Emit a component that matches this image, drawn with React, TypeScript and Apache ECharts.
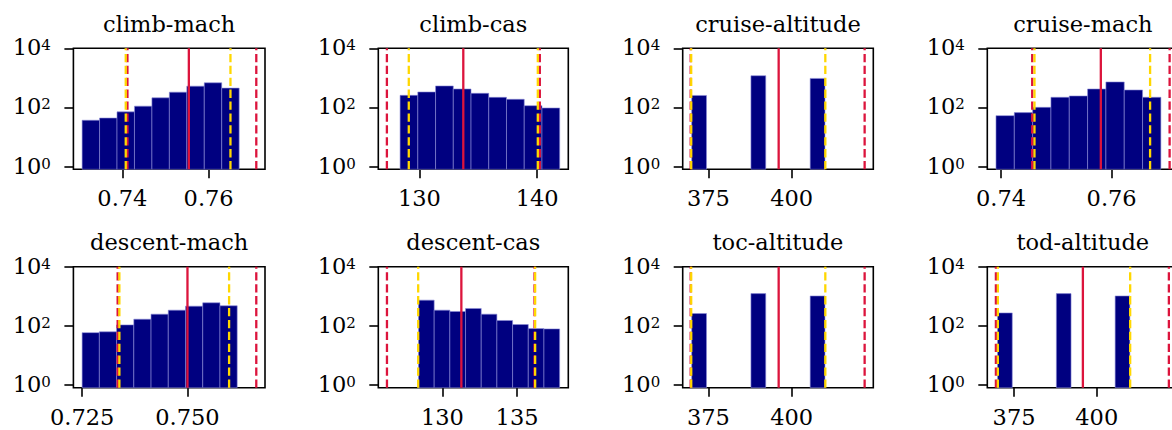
import React, { useEffect, useRef } from "react";
import * as echarts from "echarts";

const NAVY = "#000080";
const CRIMSON = "#DC143C";
const GOLD = "#FFD700";
const FONT = "DejaVu Serif";

// Panel titles, in reading order (two rows of four)
const titles = [
  "climb-mach",
  "climb-cas",
  "cruise-altitude",
  "cruise-mach",
  "descent-mach",
  "descent-cas",
  "toc-altitude",
  "tod-altitude",
];

// Histogram counts: 9 equal-width bins spanning each panel's bin range
const climbMachCounts = [37, 44, 71, 111, 212, 330, 526, 682, 451];
const climbCasCounts = [257, 334, 534, 422, 301, 220, 189, 115, 96];
const cruiseAltitudeCounts = [255, 0, 0, 0, 1184, 0, 0, 0, 961];
const cruiseMachCounts = [53, 67, 101, 221, 245, 422, 728, 390, 221];
const descentMachCounts = [59, 63, 108, 168, 249, 340, 464, 602, 477];
const descentCasCounts = [741, 340, 306, 387, 249, 152, 111, 81, 79];
const tocAltitudeCounts = [261, 0, 0, 0, 1230, 0, 0, 0, 1026];
const todAltitudeCounts = [274, 0, 0, 0, 1230, 0, 0, 0, 1026];

// Bin ranges [first edge, last edge]
const climbMachBins = [0.73066, 0.76708];
const climbCasBins = [128.36, 141.92];
const cruiseAltitudeBins = [370, 410];
const cruiseMachBins = [0.73909, 0.76891];
const descentMachBins = [0.725, 0.7618];
const descentCasBins = [128.4, 137.85];
const tocAltitudeBins = [370, 410];
const todAltitudeBins = [370, 410];

// Mean (solid crimson)
const climbMachMean = 0.75541;
const climbCasMean = 133.73;
const cruiseAltitudeMean = 396.1;
const cruiseMachMean = 0.75805;
const descentMachMean = 0.75;
const descentCasMean = 131.27;
const tocAltitudeMean = 396.1;
const todAltitudeMean = 395.8;

// Outer bounds (dashed crimson)
const climbMachBounds = [0.74117, 0.77105];
const climbCasBounds = [127.24, 140.23];
const cruiseAltitudeBounds = [369.7, 421.9];
const cruiseMachBounds = [0.74564, 0.77049];
const descentMachBounds = [0.73343, 0.76633];
const descentCasBounds = [126.29, 136.17];
const tocAltitudeBounds = [369.7, 421.9];
const todAltitudeBounds = [369.5, 421.8];

// Percentile limits (dashed gold)
const climbMachPct = [0.74078, 0.76506];
const climbCasPct = [129.1, 140.06];
const cruiseAltitudePct = [369.85, 410.1];
const cruiseMachPct = [0.74605, 0.76696];
const descentMachPct = [0.73384, 0.75988];
const descentCasPct = [128.38, 136.21];
const tocAltitudePct = [369.85, 410.1];
const todAltitudePct = [370.1, 410.1];

// X-axis ranges
const climbMachRange = [0.72864, 0.77307];
const climbCasRange = [126.51, 142.65];
const cruiseAltitudeRange = [367.3, 424.5];
const cruiseMachRange = [0.73752, 0.77206];
const descentMachRange = [0.72293, 0.7684];
const descentCasRange = [125.71, 138.43];
const tocAltitudeRange = [367.3, 424.5];
const todAltitudeRange = [366.9, 424.65];

// X tick values and their decimals
const climbMachTicks = [0.74, 0.76];
const climbCasTicks = [130, 140];
const cruiseAltitudeTicks = [375, 400];
const cruiseMachTicks = [0.74, 0.76];
const descentMachTicks = [0.725, 0.75];
const descentCasTicks = [130, 135];
const tocAltitudeTicks = [375, 400];
const todAltitudeTicks = [375, 400];
const tickDecimals = [2, 0, 0, 2, 3, 0, 0, 0];

// Count axis (log10 exponents)
const yExponentTicks = [0, 2, 4];
const Y_MIN = -0.09;
const Y_MAX = 4;

const panels = [
  { counts: climbMachCounts, bins: climbMachBins, mean: climbMachMean, bounds: climbMachBounds, pct: climbMachPct, range: climbMachRange, ticks: climbMachTicks },
  { counts: climbCasCounts, bins: climbCasBins, mean: climbCasMean, bounds: climbCasBounds, pct: climbCasPct, range: climbCasRange, ticks: climbCasTicks },
  { counts: cruiseAltitudeCounts, bins: cruiseAltitudeBins, mean: cruiseAltitudeMean, bounds: cruiseAltitudeBounds, pct: cruiseAltitudePct, range: cruiseAltitudeRange, ticks: cruiseAltitudeTicks },
  { counts: cruiseMachCounts, bins: cruiseMachBins, mean: cruiseMachMean, bounds: cruiseMachBounds, pct: cruiseMachPct, range: cruiseMachRange, ticks: cruiseMachTicks },
  { counts: descentMachCounts, bins: descentMachBins, mean: descentMachMean, bounds: descentMachBounds, pct: descentMachPct, range: descentMachRange, ticks: descentMachTicks },
  { counts: descentCasCounts, bins: descentCasBins, mean: descentCasMean, bounds: descentCasBounds, pct: descentCasPct, range: descentCasRange, ticks: descentCasTicks },
  { counts: tocAltitudeCounts, bins: tocAltitudeBins, mean: tocAltitudeMean, bounds: tocAltitudeBounds, pct: tocAltitudePct, range: tocAltitudeRange, ticks: tocAltitudeTicks },
  { counts: todAltitudeCounts, bins: todAltitudeBins, mean: todAltitudeMean, bounds: todAltitudeBounds, pct: todAltitudePct, range: todAltitudeRange, ticks: todAltitudeTicks },
];

// Layout of the 2 x 4 panel grid
const COL_LEFT = [73.4, 378.3, 682.7, 987.3];
const COL_WIDTH = [191.6, 190, 190.6, 191];
const ROW_TOP = [48.3, 266.7];
const PANEL_H = 121;
const TITLE_Y = [24.2, 242.4];
const FS = 22.5;
const LINE_W = 2.3;

function buildOption() {
  const grid: any[] = [];
  const xAxis: any[] = [];
  const yAxis: any[] = [];
  const series: any[] = [];
  const graphics: any[] = [];

  panels.forEach((p, i) => {
    const col = i % 4;
    const row = Math.floor(i / 4);
    grid.push({
      left: COL_LEFT[col],
      top: ROW_TOP[row],
      width: COL_WIDTH[col],
      height: PANEL_H,
      show: true,
      borderColor: "#000",
      borderWidth: 1.6,
      backgroundColor: "transparent",
      containLabel: false,
      outerBoundsMode: "none",
    });
    xAxis.push({
      type: "value",
      gridIndex: i,
      min: p.range[0],
      max: p.range[1],
      axisLine: { show: false, onZero: false },
      splitLine: { show: false },
      axisTick: {
        show: true,
        customValues: p.ticks,
        length: 9,
        lineStyle: { color: "#000", width: 1.6 },
      },
      axisLabel: {
        customValues: p.ticks,
        formatter: (v: number) => v.toFixed(tickDecimals[i]),
        margin: 21,
        fontFamily: FONT,
        fontSize: FS,
        lineHeight: 16,
        color: "#000",
      },
    });
    yAxis.push({
      type: "value",
      gridIndex: i,
      min: Y_MIN,
      max: Y_MAX,
      axisLine: { show: false, onZero: false },
      splitLine: { show: false },
      axisTick: {
        show: true,
        customValues: yExponentTicks,
        length: 9,
        lineStyle: { color: "#000", width: 1.6 },
      },
      axisLabel: {
        customValues: yExponentTicks,
        formatter: (v: number) => `{b|10}{s|${Math.round(v)}}`,
        margin: 22.5,
        color: "#000",
        rich: {
          b: {
            fontFamily: FONT,
            fontSize: FS,
            lineHeight: 21,
            padding: [3.6, 0, 0, 0],
            verticalAlign: "bottom",
            color: "#000",
          },
          s: {
            fontFamily: FONT,
            fontSize: 15,
            lineHeight: 15,
            verticalAlign: "top",
            color: "#000",
          },
        },
      },
    });

    // Histogram bars (count drawn on log10 scale)
    const w = (p.bins[1] - p.bins[0]) / p.counts.length;
    const barData: number[][] = [];
    p.counts.forEach((c, k) => {
      if (c > 0) barData.push([p.bins[0] + k * w, p.bins[0] + (k + 1) * w, Math.log10(c)]);
    });
    series.push({
      type: "custom",
      xAxisIndex: i,
      yAxisIndex: i,
      silent: true,
      encode: { x: [0, 1], y: 2 },
      data: barData,
      renderItem: (_params: any, api: any) => {
        const a = api.coord([api.value(0), api.value(2)]);
        const b = api.coord([api.value(1), Y_MIN]);
        return {
          type: "rect",
          shape: { x: a[0], y: a[1], width: b[0] - a[0], height: b[1] - a[1] },
          style: { fill: NAVY, stroke: "rgba(140,140,215,0.75)", lineWidth: 0.8 },
        };
      },
    });

    const vline = (x: number, color: string, dashed: boolean) => ({
      type: "line",
      xAxisIndex: i,
      yAxisIndex: i,
      silent: true,
      symbol: "none",
      data: [
        [x, Y_MIN],
        [x, Y_MAX],
      ],
      lineStyle: { color, width: LINE_W, type: dashed ? [8.3, 3.6] : "solid" },
    });
    series.push(vline(p.bounds[0], CRIMSON, true));
    series.push(vline(p.bounds[1], CRIMSON, true));
    series.push(vline(p.mean, CRIMSON, false));
    series.push(vline(p.pct[0], GOLD, true));
    series.push(vline(p.pct[1], GOLD, true));

    graphics.push({
      type: "text",
      x: COL_LEFT[col] + COL_WIDTH[col] / 2,
      y: TITLE_Y[row],
      style: {
        text: titles[i],
        fontFamily: FONT,
        fontSize: FS,
        fill: "#000",
        align: "center",
        verticalAlign: "middle",
        textAlign: "center",
        textVerticalAlign: "middle",
      },
    });
  });

  return {
    animation: false,
    backgroundColor: "#fff",
    grid,
    xAxis,
    yAxis,
    series,
    graphic: { elements: graphics },
  };
}

export default function App() {
  const ref = useRef<HTMLDivElement>(null);
  useEffect(() => {
    if (!ref.current) return;
    const chart = echarts.init(ref.current, undefined, { renderer: "svg" });
    chart.setOption(buildOption() as any);
    return () => chart.dispose();
  }, []);
  return (
    <div
      ref={ref}
      style={{ position: "absolute", left: 0, top: 0, width: 1172, height: 430, overflow: "hidden" }}
    />
  );
}
